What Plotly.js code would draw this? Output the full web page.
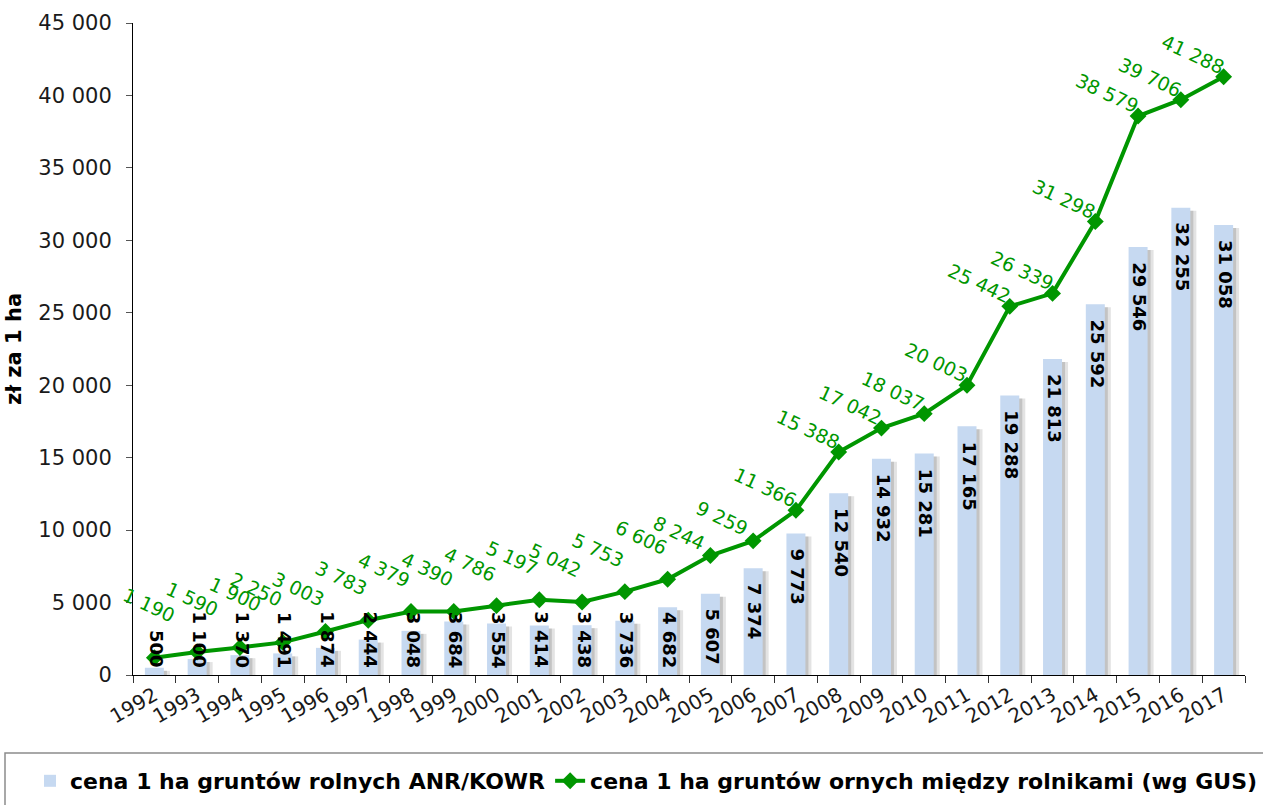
<!DOCTYPE html>
<html><head><meta charset="utf-8">
<script src="https://cdn.plot.ly/plotly-3.0.1.min.js"></script>
<style>html,body{margin:0;padding:0;background:#fff}#chart{width:1263px;height:805px}</style>
</head><body><div id="chart"></div>
<script>
const years = ['1992','1993','1994','1995','1996','1997','1998','1999','2000','2001','2002','2003','2004','2005','2006','2007','2008','2009','2010','2011','2012','2013','2014','2015','2016','2017'];
const anrPrice = [500,1100,1370,1491,1874,2444,3048,3684,3554,3414,3438,3736,4682,5607,7374,9773,12540,14932,15281,17165,19288,21813,25592,29546,32255,31058];
const gusPrice = [1190,1590,1900,2250,3003,3783,4379,4390,4786,5197,5042,5753,6606,8244,9259,11366,15388,17042,18037,20003,25442,26339,31298,38579,39706,41288];
const seriesNames = ['cena 1 ha gruntów rolnych ANR/KOWR','cena 1 ha gruntów ornych między rolnikami (wg GUS)'];
const yTitle = 'zł za 1 ha';
const yMax = 45000, yStep = 5000;

const FONT = 'DejaVu Sans';
const GREEN = 'rgb(0,150,0)';
const BAR = '#C6D9F1';
const W = 1263, H = 805;
const M = {l:133, r:18, t:23, b:130, autoexpand:false};
const plotH = H - M.t - M.b;
const plotW = W - M.l - M.r;
const ppu = plotH / yMax;
const catPx = plotW / years.length;
const barW = 19 / catPx;

const fmt = v => String(v).replace(/\B(?=(\d{3})+(?!\d))/g, ' ');
const ctx = document.createElement('canvas').getContext('2d');
ctx.font = 'bold 18px "' + FONT + '"';
const textLen = s => ctx.measureText(s).width;

const shadowA = {type:'bar', x:years, y:anrPrice, base:-3/ppu, width:barW, offset:-barW/2 + 6/catPx,
  marker:{color:'rgba(80,80,80,0.16)', line:{width:0}}, showlegend:false, hoverinfo:'skip'};
const shadowB = {type:'bar', x:years, y:anrPrice, base:-3/ppu, width:barW, offset:-barW/2 + 3/catPx,
  marker:{color:'rgba(80,80,80,0.22)', line:{width:0}}, showlegend:false, hoverinfo:'skip'};
const bars = {type:'bar', name:seriesNames[0], x:years, y:anrPrice, width:barW, offset:-barW/2,
  marker:{color:BAR, line:{width:0}}};
const line = {type:'scatter', mode:'lines+markers', name:seriesNames[1], x:years, y:gusPrice,
  line:{color:GREEN, width:4}, marker:{symbol:'diamond', size:13, color:GREEN}};

const annotations = [];
anrPrice.forEach((v, i) => {
  const t = fmt(v);
  const yTop = Math.max(v - 13/ppu, (9 + textLen(t)) / ppu);
  annotations.push({x:i, y:yTop, xref:'x', yref:'y', text:t, showarrow:false,
    textangle:90, xanchor:'center', yanchor:'top', xshift:2,
    font:{family:FONT, size:18, color:'#000', weight:'bold'}});
});
gusPrice.forEach((v, i) => {
  const dx = i < 3 ? -5 : (i < 13 ? -27 : -31);
  const dy = i < 4 ? 53 : (i < 13 ? 42 : 23);
  annotations.push({x:i, y:v, xref:'x', yref:'y', text:fmt(v), showarrow:false,
    textangle:25, xanchor:'center', yanchor:'middle', xshift:dx, yshift:dy,
    font:{family:FONT, size:19, color:GREEN}});
});

const layout = {
  width:W, height:H, margin:M, paper_bgcolor:'#fff', plot_bgcolor:'#fff',
  separators:', ', barmode:'overlay', showlegend:true,
  font:{family:FONT, size:20, color:'#1a1a1a'},
  xaxis:{type:'category', range:[-0.5, years.length - 0.5], autorange:false,
    showline:true, linecolor:'#000', linewidth:1, ticks:'outside', tickson:'boundaries',
    ticklen:7, tickcolor:'#333', tickangle:-30, tickfont:{family:FONT, size:20, color:'#1a1a1a'},
    showgrid:false, zeroline:false, automargin:false},
  yaxis:{range:[0,yMax], autorange:false, tick0:0, dtick:yStep, tickformat:',d', showline:true, linecolor:'#000', linewidth:1,
    ticks:'outside', ticklen:6, tickcolor:'#555', showgrid:false, zeroline:false, automargin:false,
    ticklabelstandoff:10, tickfont:{family:FONT, size:21, color:'#1a1a1a'},
    title:{text:yTitle, standoff:10, font:{family:FONT, size:21, color:'#000', weight:'bold'}}},
  legend:{orientation:'h', xref:'paper', yref:'paper', x:(30 - M.l)/plotW, xanchor:'left',
    y:(H - M.b - 781)/plotH, yanchor:'middle',
    font:{family:FONT, size:22, color:'#000', weight:'bold'}, bgcolor:'rgba(0,0,0,0)', itemwidth:30},
  shapes:[{type:'rect', xref:'paper', yref:'paper', x0:(5 - M.l)/plotW, x1:(W + 40 - M.l)/plotW,
    y0:(H - M.b - 753)/plotH, y1:-0.5, line:{color:'#8c8c8c', width:1.5}, layer:'above'}],
  annotations:annotations
};

Plotly.newPlot('chart', [shadowA, shadowB, bars, line], layout, {displayModeBar:false, staticPlot:true});
</script></body></html>
